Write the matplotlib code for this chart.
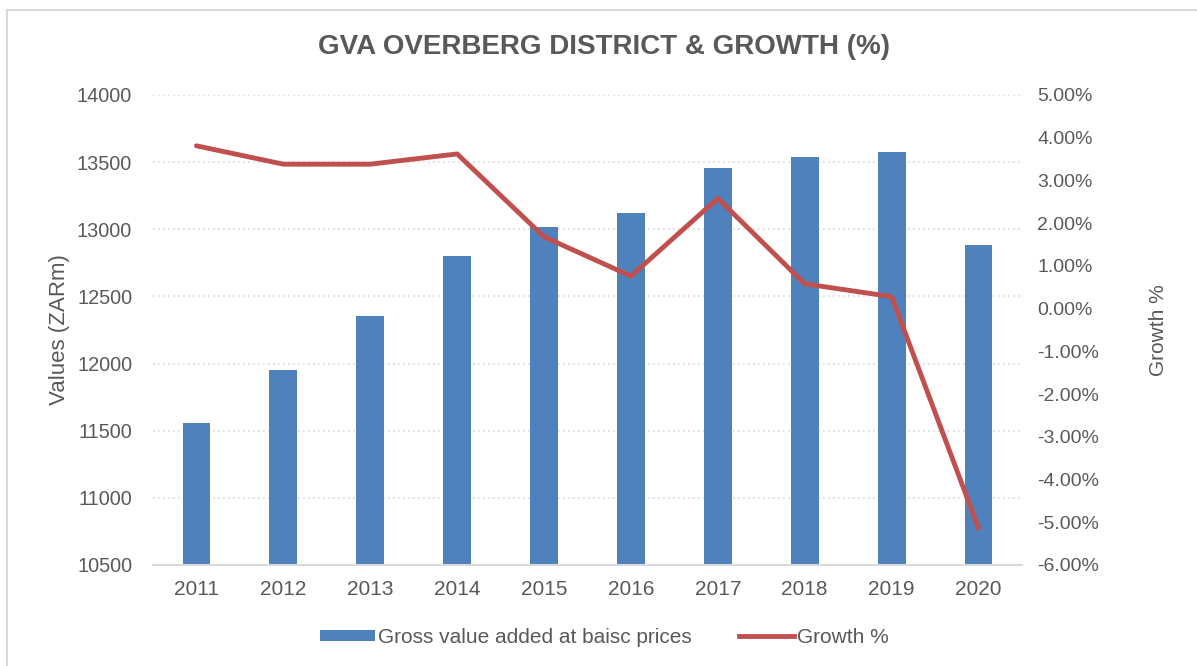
import matplotlib
matplotlib.use("Agg")
import matplotlib.pyplot as plt
from matplotlib.lines import Line2D
from matplotlib.patches import Patch
from matplotlib.ticker import FuncFormatter

plt.rcParams['font.family'] = ['Liberation Sans', 'DejaVu Sans']

years = ['2011', '2012', '2013', '2014', '2015', '2016', '2017', '2018', '2019', '2020']
gva = [11560, 11955, 12356, 12804, 13020, 13122, 13458, 13537, 13577, 12881]
growth = [3.81, 3.38, 3.38, 3.62, 1.68, 0.76, 2.58, 0.58, 0.28, -5.14]

bar_col = '#4F81BD'
line_col = '#C0504D'
txt_col = '#595959'
grid_col = '#D9D9D9'

fig = plt.figure(figsize=(11.97, 6.66), dpi=100)
ax = fig.add_axes([0.1278, 0.1517, 0.726, 0.7057])
x = list(range(len(years)))

ax.bar(x, gva, width=0.32, color=bar_col, zorder=2)
ax.set_ylim(10500, 14000)
ax.set_yticks(range(10500, 14001, 500))
ax.set_xlim(-0.5, len(years) - 0.5)
ax.set_xticks(x)
ax.set_xticklabels(years)
ax.yaxis.grid(True, linestyle=(0, (1, 2)), color=grid_col, linewidth=1.2, zorder=0)
for s in ['top', 'right', 'left']:
    ax.spines[s].set_visible(False)
ax.spines['bottom'].set_color(grid_col)
ax.spines['bottom'].set_linewidth(1.5)
ax.tick_params(axis='both', length=0, colors=txt_col)
ax.tick_params(axis='y', pad=15, labelsize=14.3)
ax.tick_params(axis='x', pad=11, labelsize=15)
ax.set_ylabel('Values (ZARm)', fontsize=16, color=txt_col, labelpad=5)

ax2 = ax.twinx()
ax2.plot(x, growth, color=line_col, linewidth=3.5, solid_capstyle='round', zorder=3)
ax2.set_ylim(-6, 5)
ax2.set_yticks(range(-6, 6))
ax2.yaxis.set_major_formatter(FuncFormatter(lambda v, p: '%.2f%%' % v))
for s in ax2.spines.values():
    s.set_visible(False)
ax2.tick_params(axis='y', length=0, labelsize=14, colors=txt_col, pad=11)
ax2.set_ylabel('Growth %', fontsize=15, color=txt_col, labelpad=36)

fig.text(0.505, 0.929, 'GVA OVERBERG DISTRICT & GROWTH (%)', ha='center', va='center',
         fontsize=20, fontweight='bold', color=txt_col)

handles = [Patch(facecolor=bar_col, edgecolor='none'),
           Line2D([], [], color=line_col, linewidth=3.5)]
leg = fig.legend(handles, ['Gross value added at baisc prices', 'Growth %'],
                 loc='center', bbox_to_anchor=(0.505, 0.043), ncol=2, frameon=False,
                 fontsize=15, handlelength=2.6, handleheight=0.5, handletextpad=0.15,
                 columnspacing=2.3)
for t in leg.get_texts():
    t.set_color(txt_col)

# chart border (top and left edge visible)
fig.add_artist(Line2D([7 / 1197, 1], [1 - 10 / 666, 1 - 10 / 666], color=grid_col, linewidth=1.5))
fig.add_artist(Line2D([7 / 1197, 7 / 1197], [0, 1 - 10 / 666], color=grid_col, linewidth=1.5))

fig.savefig('out.png', dpi=100)
